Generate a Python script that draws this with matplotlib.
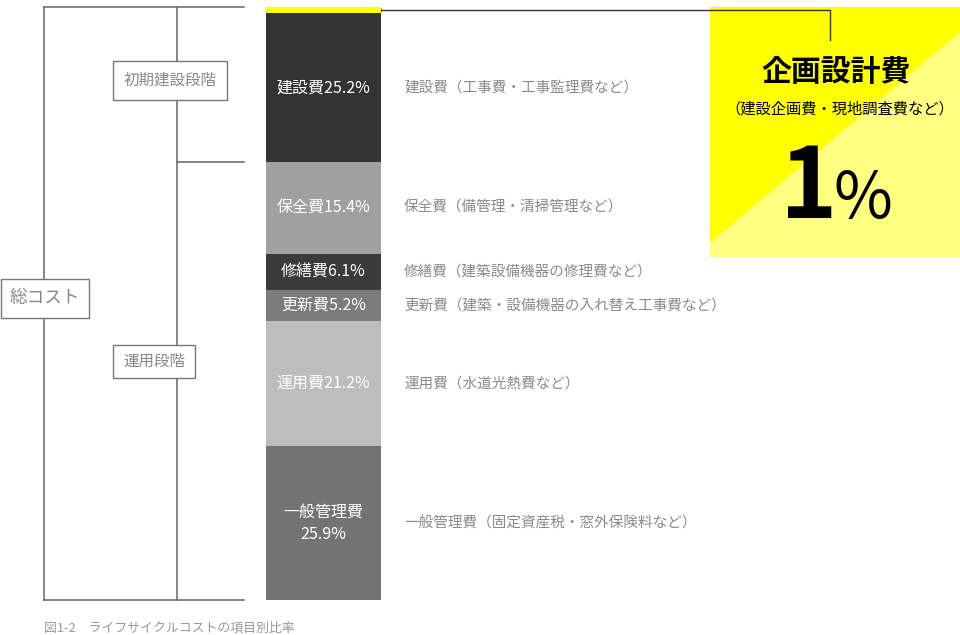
import matplotlib
matplotlib.use("Agg")
import matplotlib.pyplot as plt
from matplotlib.patches import Rectangle, Polygon
import numpy as np

plt.rcParams['font.family'] = ['Noto Sans CJK JP', 'DejaVu Sans']

# top to bottom
items = ["企画設計費", "建設費", "保全費", "修繕費", "更新費", "運用費", "一般管理費"]
shares = [1.0, 25.2, 15.4, 6.1, 5.2, 21.2, 25.9]
bar_labels = ["", "建設費25.2%", "保全費15.4%", "修繕費6.1%", "更新費5.2%", "運用費21.2%", "一般管理費\n25.9%"]
notes = ["", "建設費（工事費・工事監理費など）", "保全費（備管理・清掃管理など）",
         "修繕費（建築設備機器の修理費など）", "更新費（建築・設備機器の入れ替え工事費など）",
         "運用費（水道光熱費など）", "一般管理費（固定資産税・窓外保険料など）"]
colors = ["#ffff00", "#333333", "#a0a0a0", "#3b3b3b", "#7b7b7b", "#bdbdbd", "#737373"]

W, H = 960, 635
fig = plt.figure(figsize=(9.6, 6.35), dpi=100)

# overlay in pixel coordinates for the tree / callout
deco = fig.add_axes([0, 0, 1, 1])
deco.set_xlim(0, W)
deco.set_ylim(H, 0)
deco.axis("off")

# stacked bar
top, bot = 7, 600
ax = fig.add_axes([266 / W, (H - bot) / H, 115 / W, (bot - top) / H])
starts = np.concatenate([[0], np.cumsum(shares)[:-1]])
ax.bar([0.5] * len(shares), shares, bottom=starts, width=1.0, color=colors, linewidth=0)
ax.set_xlim(0, 1)
ax.set_ylim(100, 0)
ax.axis("off")

for s, v, lab, note in zip(starts, shares, bar_labels, notes):
    c = s + v / 2
    if lab:
        ax.text(0.5, c, lab, ha="center", va="center", color="white", fontsize=11.5,
                linespacing=1.4)
    if note:
        ax.text(1.2, c, note, ha="left", va="center", color="#8a8a8a", fontsize=10.5,
                transform=ax.get_yaxis_transform(), clip_on=False)

# tree lines
lc = "#666666"
lw = 1.1
deco.plot([44, 244], [7, 7], color=lc, lw=lw)
deco.plot([44, 244], [600, 600], color=lc, lw=lw)
deco.plot([44, 44], [7, 600], color=lc, lw=lw)
deco.plot([177, 177], [7, 600], color=lc, lw=lw)
deco.plot([177, 244], [162, 162], color=lc, lw=lw)


def box(x0, y0, x1, y1, text, size=11.2):
    deco.add_patch(Rectangle((x0, y0), x1 - x0, y1 - y0, facecolor="white",
                             edgecolor="#777777", lw=1.0, zorder=3))
    deco.text((x0 + x1) / 2, (y0 + y1) / 2, text, ha="center", va="center",
              color="#888888", fontsize=size, zorder=4)


box(113, 61, 227, 100, "初期建設段階")
box(113, 345, 195, 378, "運用段階")
box(1, 279, 89, 318, "総コスト", 12.7)

# callout box
deco.add_patch(Rectangle((710, 7), 250, 250, facecolor="#ffff00", lw=0))
deco.add_patch(Polygon([(710, 243), (960, 32), (960, 257), (710, 257)],
                       closed=True, facecolor="#ffff80", lw=0))
deco.plot([378, 830, 830], [10, 10, 40], color="#333333", lw=1.0)
deco.plot([378], [10], marker="o", ms=4, color="#333333")

deco.text(836, 72, items[0], ha="center", va="center", fontsize=21.5, fontweight="bold",
          color="black")
deco.text(840, 109, "（建設企画費・現地調査費など）", ha="center", va="center",
          fontsize=11, color="black")
deco.text(809, 190, f"{shares[0]:.0f}", ha="center", va="center", fontsize=70,
          fontweight="bold", color="black")
deco.text(863, 200, "%", ha="center", va="center", fontsize=46, color="black")

deco.text(44, 628, "図1-2　ライフサイクルコストの項目別比率", ha="left", va="center",
          fontsize=9.3, color="#999999")

fig.savefig("out.png", dpi=100)
